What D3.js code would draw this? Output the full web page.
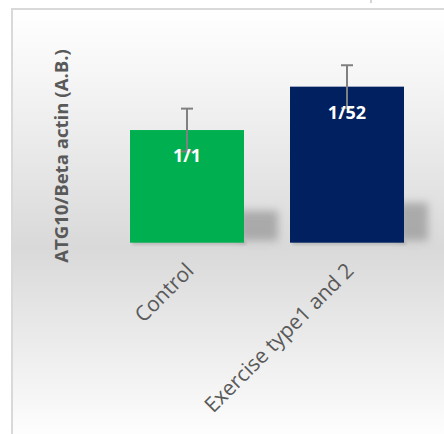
<!DOCTYPE html>
<html><head><meta charset="utf-8">
<script src="https://cdn.jsdelivr.net/npm/d3@7"></script>
<style>html,body{margin:0;padding:0;background:#fff;}svg{display:block;}</style>
</head><body>
<script>
const categories = ["Control", "Exercise type1 and 2"];
const values = [1, 1.385];
const errors = [0.19, 0.19];
const valueLabels = ["1/1", "1/52"];
const yTitle = "ATG10/Beta actin (A.B.)";
const colors = ["#00b050", "#002060"];

const W = 444, H = 434;
const svg = d3.select("body").append("svg").attr("width", W).attr("height", H);
const defs = svg.append("defs");

const bg = defs.append("linearGradient").attr("id", "bg").attr("x1", 0).attr("y1", 0).attr("x2", 0).attr("y2", 1);
bg.append("stop").attr("offset", "0").attr("stop-color", "#ffffff");
bg.append("stop").attr("offset", "0.15").attr("stop-color", "#f6f6f6");
bg.append("stop").attr("offset", "0.55").attr("stop-color", "#d9d9d9");
bg.append("stop").attr("offset", "1").attr("stop-color", "#ffffff");

const blur = defs.append("filter").attr("id", "blur").attr("x", "-50%").attr("y", "-50%").attr("width", "200%").attr("height", "200%");
blur.append("feGaussianBlur").attr("stdDeviation", 4);
const blur2 = defs.append("filter").attr("id", "blur2").attr("x", "-50%").attr("y", "-50%").attr("width", "200%").attr("height", "200%");
blur2.append("feGaussianBlur").attr("stdDeviation", 1.5);

svg.append("rect").attr("x", 12).attr("y", 9).attr("width", W).attr("height", H).attr("fill", "url(#bg)");
svg.append("line").attr("x1", 12).attr("x2", 12).attr("y1", 8).attr("y2", H).attr("stroke", "#d9d9d9").attr("stroke-width", 2);
svg.append("line").attr("x1", 11).attr("x2", W).attr("y1", 9).attr("y2", 9).attr("stroke", "#d9d9d9").attr("stroke-width", 2);
svg.append("line").attr("x1", 371).attr("x2", 371).attr("y1", 0).attr("y2", 3).attr("stroke", "#aaaaaa").attr("stroke-width", 1);

const x0 = d3.scaleBand().domain(categories).range([130, 404]).paddingInner(0.2875).paddingOuter(0);
const y = d3.scaleLinear().domain([0, 1.8]).range([242.7, 39.9]);

const data = categories.map((c, i) => ({c, v: values[i], e: errors[i], l: valueLabels[i], col: colors[i]}));

const shadowW = [40, 30];
const sh = svg.append("g");
data.forEach((d, i) => {
  const bx = x0(d.c) + x0.bandwidth();
  const top = y(0) - 36 - i * 8;
  sh.append("rect").attr("x", bx - 6).attr("y", top + 4).attr("width", shadowW[i]).attr("height", y(0) - top - 6)
    .attr("fill", "#999999").attr("opacity", 0.75).attr("filter", "url(#blur)");
  sh.append("rect").attr("x", x0(d.c) + 2).attr("y", y(0) - 2).attr("width", x0.bandwidth()).attr("height", 4)
    .attr("fill", "#a0a0a0").attr("opacity", 0.6).attr("filter", "url(#blur2)");
});

svg.append("g").selectAll("rect").data(data).join("rect")
  .attr("x", d => x0(d.c)).attr("width", x0.bandwidth())
  .attr("y", d => y(d.v)).attr("height", d => y(0) - y(d.v))
  .attr("fill", d => d.col);

const eb = svg.append("g").attr("stroke", "#808080").attr("stroke-width", 2);
data.forEach(d => {
  const cx = x0(d.c) + x0.bandwidth() / 2;
  eb.append("line").attr("x1", cx).attr("x2", cx).attr("y1", y(d.v + d.e)).attr("y2", y(d.v - d.e));
  eb.append("line").attr("x1", cx - 6).attr("x2", cx + 6).attr("y1", y(d.v + d.e)).attr("y2", y(d.v + d.e));
  eb.append("line").attr("x1", cx - 6).attr("x2", cx + 6).attr("y1", y(d.v - d.e)).attr("y2", y(d.v - d.e));
});

svg.append("g").selectAll("text").data(data).join("text")
  .attr("x", d => x0(d.c) + x0.bandwidth() / 2)
  .attr("y", d => y(d.v) + 32)
  .attr("text-anchor", "middle")
  .attr("font-family", "Open Sans, sans-serif").attr("font-weight", "bold").attr("font-size", 18)
  .attr("fill", "#ffffff")
  .text(d => d.l);

svg.append("g").selectAll("text").data(data).join("text")
  .attr("transform", d => `translate(${x0(d.c) + x0.bandwidth() / 2 + 8},${272}) rotate(-45)`)
  .attr("text-anchor", "end")
  .attr("font-family", "Open Sans, sans-serif").attr("font-size", 21)
  .attr("fill", "#595959")
  .text(d => d.c);

svg.append("text")
  .attr("transform", "translate(68,156) rotate(-90)")
  .attr("text-anchor", "middle")
  .attr("font-family", "Open Sans, sans-serif").attr("font-weight", "bold").attr("font-size", 18.6)
  .attr("fill", "#595959")
  .text(yTitle);
</script>
</body></html>
